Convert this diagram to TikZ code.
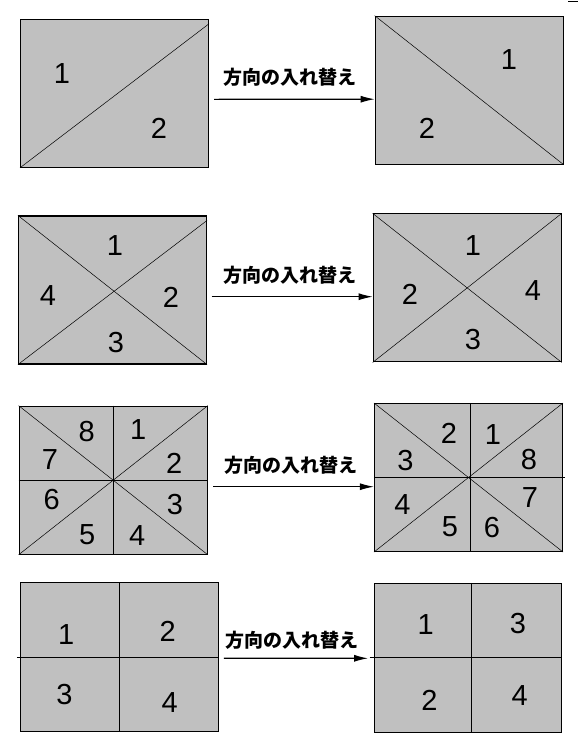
\documentclass[tikz,border=0pt]{standalone}
\usepackage{fontspec}
\setmainfont{Liberation Sans}
\newfontfamily\jpfont{Noto Sans CJK JP}
\usepackage{tikz}
\usetikzlibrary{arrows.meta}
\usetikzlibrary{positioning}
\definecolor{panelgray}{RGB}{192,192,192}
\tikzset{
  panel/.style={draw,fill=panelgray,line width=1.1pt,inner sep=0pt,minimum width=188pt,minimum height=148pt},
  num/.style={inner sep=0pt,font=\fontsize{29}{29}\selectfont},
  swaptext/.style={inner sep=0pt,font=\jpfont\bfseries\fontsize{19}{19}\selectfont},
  arr/.style={-{Latex[length=14pt,width=7pt]},line width=1.1pt},
  cut/.style={line width=0.5pt},
  split/.style={line width=0.9pt}
}

\begin{document}
\begin{tikzpicture}[x=1pt,y=-1pt]
  \useasboundingbox (0,0) rectangle (578,742);
  \draw[line width=1pt] (568,1) -- (578,1);

  \node[panel] (a1) at (114.5,93.3) {};
  \node[panel] (b1) at (469.2,90.2) {};
  \draw[cut] (a1.south west) -- ([yshift=-5pt]a1.north east);
  \draw[cut] (b1.north west) -- (b1.south east);
  \node[num] (a1n1) at (62,74) {1};
  \node[num] (a1n2) at (159,128) {2};
  \node[num] (b1n1) at (509,60) {1};
  \node[num] (b1n2) at (427,128) {2};
  \node[swaptext] (t1) at (290,77) {方向の入れ替え};
  \draw[arr] ([shift={(5,6)}]a1.east) -- ([shift={(0,9)}]b1.west);

  \node[panel] (a2) at (112.5,290) {};
  \node[panel] (b2) at (467.2,287.9) {};
  \draw[cut] (a2.north west) -- (a2.south east);
  \draw[cut] (a2.south west) -- ([yshift=-5pt]a2.north east);
  \draw[cut] (b2.north west) -- (b2.south east);
  \draw[cut] (b2.south west) -- (b2.north east);
  \node[num] (a2n1) at (115,246) {1};
  \node[num] (a2n2) at (171,297) {2};
  \node[num] (a2n3) at (116,343) {3};
  \node[num] (a2n4) at (48,296) {4};
  \node[num] (b2n1) at (473,246) {1};
  \node[num] (b2n2) at (410,294) {2};
  \node[num] (b2n3) at (473,340) {3};
  \node[num] (b2n4) at (533,291) {4};
  \node[swaptext] (t2) at (290,275) {方向の入れ替え};
  \draw[arr] ([shift={(4.5,6.7)}]a2.east) -- ([shift={(0,8.8)}]b2.west);

  \node[panel] (a3) at (113.2,480.2) {};
  \node[panel] (b3) at (468.5,477.5) {};
  \draw[cut] (a3.north west) -- (a3.south east);
  \draw[cut] (a3.south west) -- (a3.north east);
  \draw[split] (a3.north) -- (a3.south);
  \draw[split] (a3.west) -- (a3.east);
  \draw[cut] (b3.north west) -- (b3.south east);
  \draw[cut] (b3.south west) -- (b3.north east);
  \draw[split] ([xshift=2pt]b3.north) -- ([xshift=2pt]b3.south);
  \draw[split] (b3.west) -- ([xshift=2pt]b3.east);
  \node[num] (a3n1) at (138.3,430) {1};
  \node[num] (a3n2) at (174.3,463.3) {2};
  \node[num] (a3n3) at (175,505) {3};
  \node[num] (a3n4) at (137.3,536) {4};
  \node[num] (a3n5) at (87.3,535) {5};
  \node[num] (a3n6) at (51.7,500) {6};
  \node[num] (a3n7) at (50,459.3) {7};
  \node[num] (a3n8) at (86.7,431.7) {8};
  \node[num] (b3n1) at (493,435) {1};
  \node[num] (b3n2) at (449,433) {2};
  \node[num] (b3n3) at (405.5,461) {3};
  \node[num] (b3n4) at (402.5,505) {4};
  \node[num] (b3n5) at (450,527) {5};
  \node[num] (b3n6) at (492,528) {6};
  \node[num] (b3n7) at (530,498) {7};
  \node[num] (b3n8) at (529,460) {8};
  \node[swaptext] (t3) at (291,465) {方向の入れ替え};
  \draw[arr] ([shift={(5.5,6.5)}]a3.east) -- ([shift={(0,9.2)}]b3.west);

  \node[panel,minimum width=198pt,minimum height=149pt] (a4) at (119.3,657.2) {};
  \node[panel,minimum width=187pt,minimum height=149pt] (b4) at (467.6,657.8) {};
  \draw[split] (a4.north) -- (a4.south);
  \draw[split] ([xshift=-3pt]a4.west) -- (a4.east);
  \draw[split] ([xshift=3.4pt]b4.north) -- ([xshift=3.4pt]b4.south);
  \draw[split] ([xshift=-4pt]b4.west) -- (b4.east);
  \node[num] (a4n1) at (66.3,635) {1};
  \node[num] (a4n2) at (167.7,631) {2};
  \node[num] (a4n3) at (64.5,695) {3};
  \node[num] (a4n4) at (169.6,703) {4};
  \node[num] (b4n1) at (425.7,625) {1};
  \node[num] (b4n2) at (429.4,700) {2};
  \node[num] (b4n3) at (518,624) {3};
  \node[num] (b4n4) at (519.7,696) {4};
  \node[swaptext] (t4) at (292,640) {方向の入れ替え};
  \draw[arr] ([shift={(5,1)}]a4.east) -- ([shift={(-5.5,0.5)}]b4.west);
\end{tikzpicture}
\end{document}
